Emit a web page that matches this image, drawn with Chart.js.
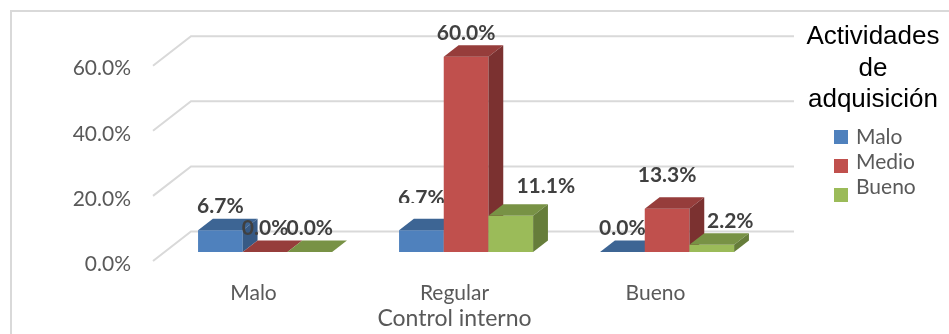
<!DOCTYPE html>
<html>
<head>
  <meta charset="utf-8">
  <title>Control interno</title>
  <script src="https://cdn.jsdelivr.net/npm/chart.js"></script>
  <style>
    body { margin: 0; background: #fff; }
    #wrap { width: 949px; height: 334px; position: relative; }
  </style>
</head>
<body>
  <div id="wrap"><canvas id="chart"></canvas></div>
  <script>
    // datos
    const categories = ['Malo', 'Regular', 'Bueno'];
    const seriesNames = ['Malo', 'Medio', 'Bueno'];
    const malo = [6.7, 6.7, 0.0];
    const medio = [0.0, 60.0, 13.3];
    const bueno = [0.0, 11.1, 2.2];
    const yTicks = [0, 20, 40, 60];
    const legendTitle = ['Actividades', 'de', 'adquisición'];

    // colores de cada serie: frente, tapa y lateral
    const palette = [
      { front: '#4F81BD', top: '#3D6594', side: '#375A85' },
      { front: '#C0504D', top: '#963D3B', side: '#7B3130' },
      { front: '#9BBB59', top: '#789245', side: '#667D3A' }
    ];

    // profundidad de la caja 3D (piso y pared de fondo)
    const depth = { dx: 38, dy: 29.5 };
    const barFront = 0.305;   // donde empieza la barra dentro del piso
    const barDepth = 0.39;    // grosor de la barra

    // ajustes finos de algunas etiquetas, por categoría y serie: [dx, dy, recorte inferior]
    const labelNudge = {
      1: { 0: [0, -8, 203], 2: [35, -6] },
      2: { 1: [0, -10], 2: [18.5, 0] }
    };

    function drawWalls(chart) {
      const { ctx, chartArea: a, scales: { y } } = chart;
      ctx.save();
      ctx.strokeStyle = '#d9d9d9';
      ctx.lineWidth = 2;
      yTicks.forEach(v => {
        const py = y.getPixelForValue(v);
        ctx.beginPath();
        ctx.moveTo(a.left, py);
        ctx.lineTo(a.left + depth.dx, py - depth.dy);
        ctx.lineTo(a.right + depth.dx, py - depth.dy);
        ctx.stroke();
      });
      ctx.restore();
    }

    function boxGeom(el) {
      const ox = depth.dx * barFront, oy = depth.dy * barFront;
      const bx = depth.dx * barDepth, by = depth.dy * barDepth;
      const x0 = el.x - el.width / 2 + ox;
      return { x0, x1: x0 + el.width, top: el.y - oy, bot: el.base - oy, bx, by };
    }

    function drawBox(ctx, el, c) {
      const g = boxGeom(el);
      ctx.fillStyle = c.front;
      ctx.fillRect(g.x0, g.top, g.x1 - g.x0, g.bot - g.top);
      // tapa
      ctx.fillStyle = c.top;
      ctx.beginPath();
      ctx.moveTo(g.x0, g.top);
      ctx.lineTo(g.x0 + g.bx, g.top - g.by);
      ctx.lineTo(g.x1 + g.bx, g.top - g.by);
      ctx.lineTo(g.x1, g.top);
      ctx.closePath();
      ctx.fill();
      // lateral
      ctx.fillStyle = c.side;
      ctx.beginPath();
      ctx.moveTo(g.x1, g.top);
      ctx.lineTo(g.x1 + g.bx, g.top - g.by);
      ctx.lineTo(g.x1 + g.bx, g.bot - g.by);
      ctx.lineTo(g.x1, g.bot);
      ctx.closePath();
      ctx.fill();
    }

    const bars3d = {
      id: 'bars3d',
      beforeDraw(chart) {
        const ctx = chart.ctx;
        ctx.save();
        ctx.strokeStyle = '#d9d9d9';
        ctx.lineWidth = 2;
        ctx.strokeRect(11, 11, 1000, 1000);
        ctx.restore();
      },
      beforeDatasetsDraw(chart) {
        const ctx = chart.ctx;
        drawWalls(chart);
        ctx.save();
        categories.forEach((cat, j) => {
          chart.data.datasets.forEach((ds, i) => {
            drawBox(ctx, chart.getDatasetMeta(i).data[j], palette[i]);
          });
        });
        // etiquetas de valor
        ctx.font = 'bold 21px Lato';
        ctx.fillStyle = '#404040';
        ctx.textAlign = 'center';
        ctx.textBaseline = 'middle';
        chart.data.datasets.forEach((ds, i) => {
          chart.getDatasetMeta(i).data.forEach((el, j) => {
            const g = boxGeom(el);
            const n = (labelNudge[j] && labelNudge[j][i]) || [0, 0];
            const x = (g.x0 + g.x1) / 2 + n[0];
            const y = g.top - g.by - 12 + n[1];
            ctx.save();
            if (n[2]) {
              ctx.beginPath();
              ctx.rect(0, 0, 949, n[2]);
              ctx.clip();
            }
            ctx.fillText(ds.data[j].toFixed(1) + '%', x, y);
            ctx.restore();
          });
        });
        ctx.restore();
        return false;
      },
      afterDraw(chart) {
        const ctx = chart.ctx;
        ctx.save();
        ctx.fillStyle = '#000';
        ctx.font = '26px "Liberation Sans"';
        ctx.textAlign = 'center';
        ctx.textBaseline = 'middle';
        legendTitle.forEach((t, k) => ctx.fillText(t, 873, 37 + k * 31.5));
        ctx.font = '21px Lato';
        ctx.textAlign = 'left';
        chart.data.datasets.forEach((ds, i) => {
          ctx.fillStyle = palette[i].front;
          ctx.fillRect(834, 130 + i * 29, 14, 14);
          ctx.fillStyle = '#595959';
          ctx.fillText(ds.label, 856, 137 + i * 25);
        });
        ctx.restore();
      }
    };

    new Chart(document.getElementById('chart'), {
      type: 'bar',
      data: {
        labels: categories,
        datasets: [malo, medio, bueno].map((d, i) => ({
          label: seriesNames[i],
          data: d,
          backgroundColor: palette[i].front,
          categoryPercentage: 0.667,
          barPercentage: 1
        }))
      },
      options: {
        responsive: true,
        maintainAspectRatio: false,
        animation: false,
        events: [],
        layout: { padding: { left: 0, right: 193, top: 65.7, bottom: 0 } },
        plugins: {
          legend: { display: false },
          tooltip: { enabled: false }
        },
        scales: {
          x: {
            grid: { display: false, drawTicks: false },
            border: { display: false },
            ticks: { color: '#595959', font: { family: 'Lato', size: 21 }, padding: 20 },
            title: {
              display: true,
              text: 'Control interno',
              color: '#595959',
              font: { family: 'Lato', size: 23 },
              padding: { top: 0, bottom: 2 }
            },
            afterFit: s => { s.height = 73; }
          },
          y: {
            min: 0,
            max: 60,
            grid: { display: false, drawTicks: false },
            border: { display: false },
            ticks: {
              stepSize: 20,
              padding: 22,
              labelOffset: 3,
              color: '#595959',
              font: { family: 'Lato', size: 21 },
              callback: v => v.toFixed(1) + '%'
            },
            afterFit: s => { s.width = 153; }
          }
        }
      },
      plugins: [bars3d]
    });
  </script>
</body>
</html>
